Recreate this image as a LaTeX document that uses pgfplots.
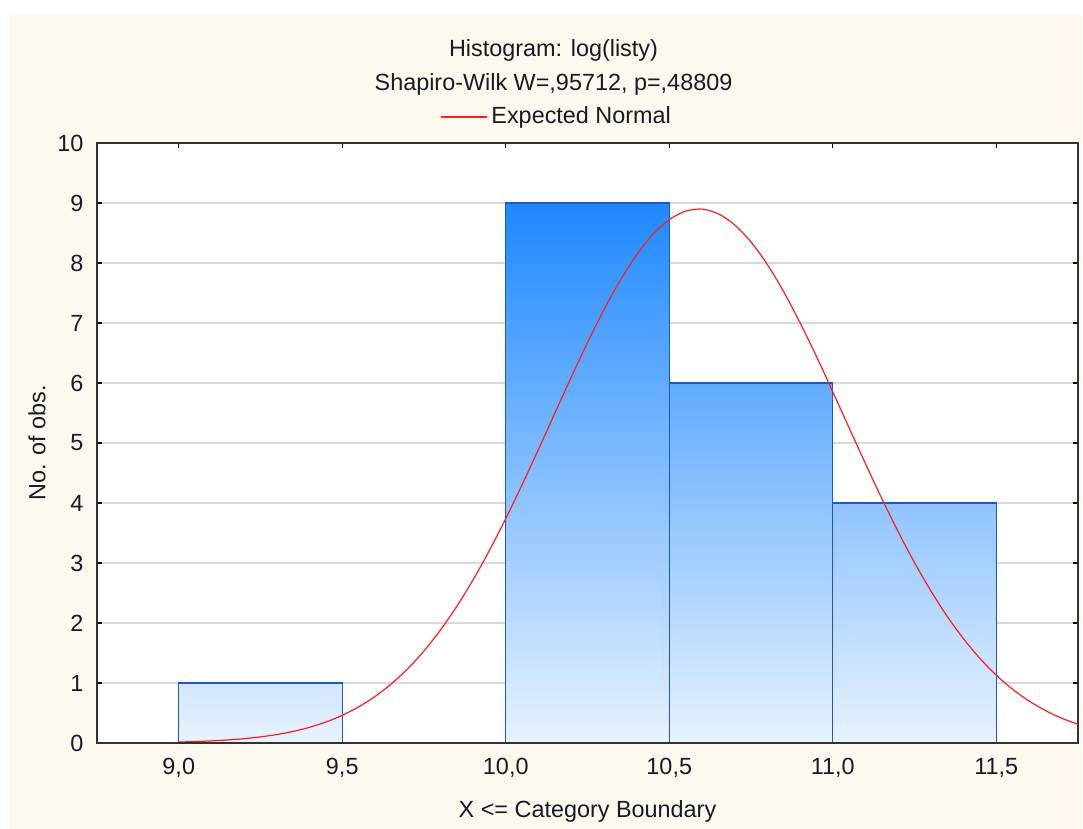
\documentclass[border=0pt]{standalone}
\usepackage{pgfplots}
\pgfplotsset{compat=1.18}
\usepackage{fontspec}
\setmainfont{Liberation Sans}
\definecolor{bgbeige}{RGB}{254,249,239}
\definecolor{axisgray}{RGB}{50,50,50}
\definecolor{gridgray}{RGB}{218,218,218}
\definecolor{baredge}{RGB}{25,85,215}
\definecolor{bardark}{RGB}{30,136,255}
\definecolor{barlight}{RGB}{232,243,255}
\definecolor{curvered}{RGB}{255,30,30}
\definecolor{txt}{RGB}{25,25,40}
\begin{document}
\fontsize{11.7}{14}\selectfont
\begin{tikzpicture}
\path[use as bounding box] (-48.5pt,-43pt) rectangle (493pt,371.5pt);
\fill[bgbeige] (-43.5pt,-43pt) rectangle (492.5pt,364pt);
\fill[white] (0pt,0pt) rectangle (490.5pt,300pt);
\begin{axis}[
  at={(0pt,0pt)}, anchor=south west,
  scale only axis, width=490.5pt, height=300pt,
  xmin=8.75, xmax=11.75, ymin=0, ymax=10,
  xtick={9,9.5,10,10.5,11,11.5},
  ytick={0,1,2,3,4,5,6,7,8,9,10},
  tick align=inside,
  major tick length=2.5pt,
  tick style={black, line width=0.6pt},
  axis line style={axisgray, line width=0.75pt},
  ymajorgrids,
  major grid style={gridgray, line width=0.6pt},
  font=\fontsize{11.7}{14}\selectfont,
  tick label style={font=\fontsize{11.7}{14}\selectfont, text=txt, /pgf/number format/assume math mode=true},
  xticklabel style={/pgf/number format/fixed, /pgf/number format/fixed zerofill, /pgf/number format/precision=1, /pgf/number format/use comma, yshift=-3.7pt},
  yticklabel style={xshift=-2.7pt},
  xlabel={X <= Category Boundary},
  ylabel={No. of obs.},
  every axis x label/.style={at={(axis description cs:0.5,-0.1133)}, anchor=center, text=txt},
  every axis y label/.style={at={(axis description cs:-0.0612,0.5)}, rotate=90, anchor=center, text=txt},
  legend style={at={(axis description cs:0.4695,1.0433)}, anchor=center, draw=none, fill=none, text=txt, font=\fontsize{11.7}{14}\selectfont},
  legend image code/.code={\draw[#1] (0pt,0pt) -- (20pt,0pt); \path (0pt,0pt) -- (23pt,0pt);},
]
\addplot[ybar interval, forget plot, draw=baredge, line width=0.7pt, top color=bardark!11!barlight, bottom color=barlight] coordinates {(9.0,1) (9.5,1)};
\addplot[ybar interval, forget plot, draw=baredge, line width=0.7pt, top color=bardark, bottom color=barlight] coordinates {(10.0,9) (10.5,9)};
\addplot[ybar interval, forget plot, draw=baredge, line width=0.7pt, top color=bardark!67!barlight, bottom color=barlight] coordinates {(10.5,6) (11.0,6)};
\addplot[ybar interval, forget plot, draw=baredge, line width=0.7pt, top color=bardark!44!barlight, bottom color=barlight] coordinates {(11.0,4) (11.5,4)};

\addplot[curvered, line width=0.6pt, smooth, mark=none] coordinates {
(9.00,0.016) (9.05,0.024) (9.10,0.035) (9.15,0.051) (9.20,0.072) (9.25,0.102)
(9.30,0.141) (9.35,0.193) (9.40,0.261) (9.45,0.349) (9.50,0.461) (9.55,0.601)
(9.60,0.774) (9.65,0.985) (9.70,1.237) (9.75,1.534) (9.80,1.880) (9.85,2.275)
(9.90,2.718) (9.95,3.208) (10.00,3.739) (10.05,4.304) (10.10,4.893) (10.15,5.495)
(10.20,6.093) (10.25,6.673) (10.30,7.218) (10.35,7.710) (10.40,8.134) (10.45,8.476)
(10.50,8.722) (10.55,8.864) (10.60,8.898) (10.65,8.820) (10.70,8.636) (10.75,8.350)
(10.80,7.975) (10.85,7.521) (10.90,7.005) (10.95,6.445) (11.00,5.854) (11.05,5.254)
(11.10,4.656) (11.15,4.074) (11.20,3.522) (11.25,3.006) (11.30,2.535) (11.35,2.111)
(11.40,1.736) (11.45,1.410) (11.50,1.131) (11.55,0.896) (11.60,0.701) (11.65,0.542)
(11.70,0.413) (11.75,0.312)
};
\addlegendentry{Expected Normal}
\end{axis}
\draw[axisgray, line width=0.75pt] (0pt,0pt) -- (490.5pt,0pt);
\node[anchor=base, text=txt] at (228.25pt,343pt) {Histogram: log(listy)};
\node[anchor=base, text=txt] at (228.25pt,326pt) {Shapiro-Wilk W=,95712, p=,48809};
\end{tikzpicture}
\end{document}
